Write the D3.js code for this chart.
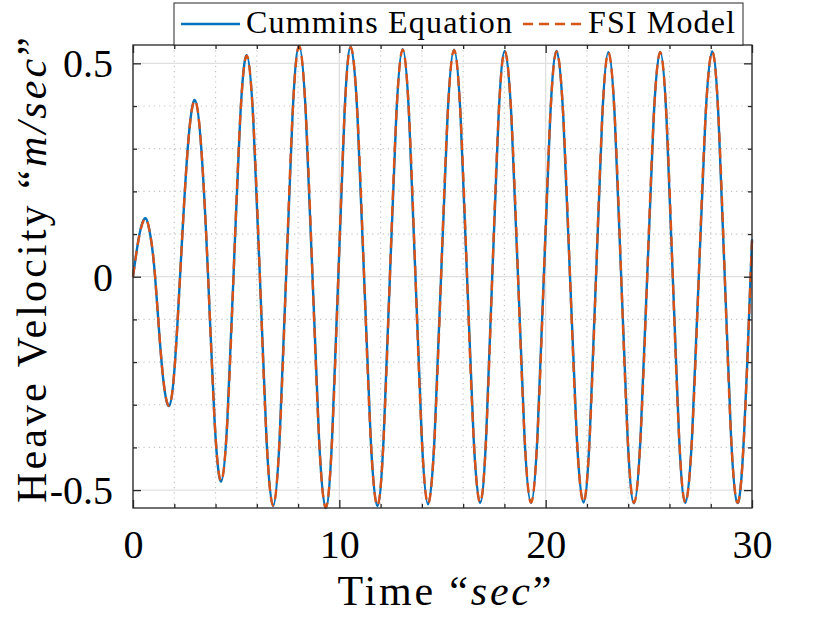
<!DOCTYPE html>
<html>
<head>
<meta charset="utf-8">
<script src="https://cdn.jsdelivr.net/npm/d3@7"></script>
<style>
  html, body { margin: 0; padding: 0; background: #fff; }
</style>
</head>
<body>
<svg id="chart" width="830" height="623"></svg>
<script>
// ---- data ----
const time = [0, 0.305, 0.61, 0.84, 1.07, 1.41, 1.75, 2.015, 2.28, 2.64, 3.00, 3.32, 3.64, 3.955, 4.27, 4.57, 4.87, 5.19, 5.51, 5.83,
  6.15, 6.47, 6.79, 7.105, 7.42, 7.735, 8.05, 8.375, 8.70, 9.02, 9.34, 9.645, 9.95, 10.25, 10.55, 10.875, 11.20, 11.52, 11.84, 12.145,
  12.45, 12.76, 13.07, 13.38, 13.69, 13.995, 14.30, 14.615, 14.93, 15.245, 15.56, 15.875, 16.19, 16.505, 16.82, 17.115, 17.41, 17.715, 18.02, 18.34,
  18.66, 18.975, 19.29, 19.60, 19.91, 20.22, 20.53, 20.855, 21.18, 21.505, 21.83, 22.135, 22.44, 22.74, 23.04, 23.35, 23.66, 23.97, 24.28, 24.60,
  24.92, 25.235, 25.55, 25.855, 26.16, 26.465, 26.77, 27.095, 27.42, 27.745, 28.07, 28.375, 28.68, 28.985, 29.29, 29.61, 29.93, 30.00];

const cummins = [0, 0.097, 0.137, 0.097, 0, -0.214, -0.303, -0.214, 0, 0.293, 0.414, 0.293, 0, -0.339, -0.480, -0.339, 0, 0.367, 0.519, 0.367,
  0, -0.380, -0.537, -0.380, 0, 0.382, 0.541, 0.382, 0, -0.383, -0.542, -0.383, 0, 0.381, 0.539, 0.381, 0, -0.380, -0.537, -0.380,
  0, 0.377, 0.533, 0.377, 0, -0.377, -0.533, -0.377, 0, 0.376, 0.532, 0.376, 0, -0.375, -0.530, -0.375, 0, 0.374, 0.529, 0.374,
  0, -0.375, -0.530, -0.375, 0, 0.374, 0.529, 0.374, 0, -0.374, -0.529, -0.374, 0, 0.372, 0.526, 0.372, 0, -0.375, -0.531, -0.375,
  0, 0.373, 0.527, 0.373, 0, -0.375, -0.530, -0.375, 0, 0.373, 0.528, 0.373, 0, -0.375, -0.530, -0.375, 0, 0.085];

const fsi = [0, 0.096, 0.136, 0.097, 0.001, -0.213, -0.302, -0.214, -0.001, 0.292, 0.413, 0.294, 0.001, -0.338, -0.479, -0.340, -0.001, 0.366, 0.518, 0.368,
  0.001, -0.379, -0.536, -0.381, -0.001, 0.381, 0.540, 0.383, 0.001, -0.382, -0.541, -0.384, -0.001, 0.380, 0.538, 0.382, 0.001, -0.379, -0.536, -0.381,
  -0.001, 0.376, 0.532, 0.378, 0.001, -0.376, -0.532, -0.378, -0.001, 0.375, 0.531, 0.377, 0.001, -0.374, -0.529, -0.376, -0.001, 0.373, 0.528, 0.375,
  0.001, -0.374, -0.529, -0.376, -0.001, 0.373, 0.528, 0.375, 0.001, -0.373, -0.528, -0.375, -0.001, 0.371, 0.525, 0.373, 0.001, -0.374, -0.530, -0.376,
  -0.001, 0.372, 0.526, 0.374, 0.001, -0.374, -0.529, -0.376, -0.001, 0.372, 0.527, 0.374, 0.001, -0.374, -0.529, -0.376, -0.001, 0.083];

const xTicks = [0, 10, 20, 30];
const xTickLabels = ["0", "10", "20", "30"];
const yTicks = [-0.5, 0, 0.5];
const yTickLabels = ["-0.5", "0", "0.5"];
const xMinor = [2, 4, 6, 8, 12, 14, 16, 18, 22, 24, 26, 28];
const yMinor = [-0.4, -0.3, -0.2, -0.1, 0.1, 0.2, 0.3, 0.4];
const seriesNames = ["Cummins Equation", "FSI Model"];
const seriesColors = ["#0072BD", "#D95319"];
const xDomain = [0, 30];
const yDomain = [-0.542, 0.543];

// ---- layout ----
const FONT = "Liberation Serif";
const L = 133, R = 752, T = 45, B = 508;
const svg = d3.select("#chart");
const x = d3.scaleLinear().domain(xDomain).range([L, R]);
const y = d3.scaleLinear().domain(yDomain).range([B, T]);
const ink = "#262626";

// minor grid (dotted)
const g = svg.append("g");
g.selectAll(".mx").data(xMinor).enter().append("line")
  .attr("x1", d => x(d)).attr("x2", d => x(d)).attr("y1", T).attr("y2", B)
  .attr("stroke", "#c4c4c4").attr("stroke-width", 1.2).attr("stroke-dasharray", "1.2,4");
g.selectAll(".my").data(yMinor).enter().append("line")
  .attr("y1", d => y(d)).attr("y2", d => y(d)).attr("x1", L).attr("x2", R)
  .attr("stroke", "#c4c4c4").attr("stroke-width", 1.2).attr("stroke-dasharray", "1.2,4");
// major grid
g.selectAll(".Mx").data(xTicks).enter().append("line")
  .attr("x1", d => x(d)).attr("x2", d => x(d)).attr("y1", T).attr("y2", B)
  .attr("stroke", "#e0e0e0").attr("stroke-width", 1.3);
g.selectAll(".My").data(yTicks).enter().append("line")
  .attr("y1", d => y(d)).attr("y2", d => y(d)).attr("x1", L).attr("x2", R)
  .attr("stroke", "#e0e0e0").attr("stroke-width", 1.3);

// lines (kept inside the plot box)
const xClamp = d => Math.max(T - 1, Math.min(B + 1, y(d)));
const line = d3.line().x(d => x(d[0])).y(d => xClamp(d[1])).curve(d3.curveNatural);
const lines = svg.append("g");
lines.append("path").datum(time.map((t, i) => [t, cummins[i]]))
  .attr("d", line).attr("fill", "none").attr("stroke", seriesColors[0]).attr("stroke-width", 2.4);
lines.append("path").datum(time.map((t, i) => [t, fsi[i]]))
  .attr("d", line).attr("fill", "none").attr("stroke", seriesColors[1]).attr("stroke-width", 2.4)
  .attr("stroke-dasharray", "10,6");

// axes box
svg.append("rect").attr("x", L).attr("y", T).attr("width", R - L).attr("height", B - T)
  .attr("fill", "none").attr("stroke", ink).attr("stroke-width", 1.3);

// ticks via d3 axes (inward)
const xAxisB = d3.axisBottom(x).tickValues(xTicks).tickFormat((d, i) => xTickLabels[i]).tickSizeInner(-8).tickSizeOuter(0).tickPadding(22);
const xAxisT = d3.axisTop(x).tickValues(xTicks).tickFormat("").tickSizeInner(-8).tickSizeOuter(0);
const yAxisL = d3.axisLeft(y).tickValues(yTicks).tickFormat((d, i) => yTickLabels[i]).tickSizeInner(-8).tickSizeOuter(0).tickPadding(20);
const yAxisR = d3.axisRight(y).tickValues(yTicks).tickFormat("").tickSizeInner(-8).tickSizeOuter(0);
const xMinB = d3.axisBottom(x).tickValues(xMinor).tickFormat("").tickSizeInner(-4).tickSizeOuter(0);
const xMinT = d3.axisTop(x).tickValues(xMinor).tickFormat("").tickSizeInner(-4).tickSizeOuter(0);
const yMinL = d3.axisLeft(y).tickValues(yMinor).tickFormat("").tickSizeInner(-4).tickSizeOuter(0);
const yMinR = d3.axisRight(y).tickValues(yMinor).tickFormat("").tickSizeInner(-4).tickSizeOuter(0);

function styleAxis(sel) {
  sel.select(".domain").remove();
  sel.selectAll("line").attr("stroke", ink).attr("stroke-width", 1.3);
  sel.selectAll("text").attr("font-size", 40).attr("fill", "#000").style("font-family", FONT);
}
svg.append("g").attr("transform", `translate(0,${B})`).call(xAxisB).call(styleAxis)
  .selectAll("text").attr("dy", "0.71em");
svg.append("g").attr("transform", `translate(0,${T})`).call(xAxisT).call(styleAxis);
svg.append("g").attr("transform", `translate(${L},0)`).call(yAxisL).call(styleAxis)
  .selectAll("text").attr("dy", "0.34em");
svg.append("g").attr("transform", `translate(${R},0)`).call(yAxisR).call(styleAxis);
svg.append("g").attr("transform", `translate(0,${B})`).call(xMinB).call(styleAxis);
svg.append("g").attr("transform", `translate(0,${T})`).call(xMinT).call(styleAxis);
svg.append("g").attr("transform", `translate(${L},0)`).call(yMinL).call(styleAxis);
svg.append("g").attr("transform", `translate(${R},0)`).call(yMinR).call(styleAxis);

// axis labels
const xl = svg.append("text").attr("x", (L + R) / 2 + 2).attr("y", 605).attr("text-anchor", "middle")
  .style("font-family", FONT).attr("font-size", 42).attr("textLength", 214).attr("lengthAdjust", "spacing");
xl.append("tspan").text("Time \u201C");
xl.append("tspan").attr("font-style", "italic").text("sec");
xl.append("tspan").text("\u201D");

const yl = svg.append("text").attr("transform", `translate(46,${270}) rotate(-90)`).attr("text-anchor", "middle")
  .style("font-family", FONT).attr("font-size", 42).attr("textLength", 466).attr("lengthAdjust", "spacing");
yl.append("tspan").text("Heave Velocity \u201C");
yl.append("tspan").attr("font-style", "italic").text("m/sec");
yl.append("tspan").text("\u201D");

// legend
const leg = svg.append("g");
leg.append("rect").attr("x", 174).attr("y", 3).attr("width", 569).attr("height", 42)
  .attr("fill", "#fff").attr("stroke", ink).attr("stroke-width", 1);
const legItems = [
  {x1: 181, x2: 240, tx: 246, tl: 266},
  {x1: 523, x2: 583, tx: 588, tl: 147}
];
legItems.forEach((it, i) => {
  leg.append("line").attr("x1", it.x1).attr("x2", it.x2).attr("y1", 24).attr("y2", 24)
    .attr("stroke", seriesColors[i]).attr("stroke-width", 2.4)
    .attr("stroke-dasharray", i === 1 ? "10,6" : null);
  leg.append("text").attr("x", it.tx).attr("y", 33).style("font-family", FONT).attr("font-size", 32)
    .attr("textLength", it.tl).attr("lengthAdjust", "spacing").text(seriesNames[i]);
});
</script>
</body>
</html>
